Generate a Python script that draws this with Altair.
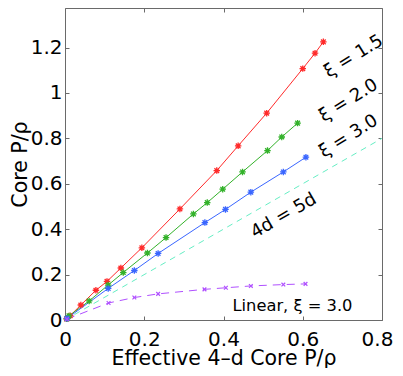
import altair as alt
import pandas as pd

# ---- data ----
red_x = [0.004, 0.013, 0.040, 0.078, 0.106, 0.141, 0.194, 0.290, 0.383, 0.437, 0.509, 0.600, 0.631, 0.652]
red_y = [0.005, 0.019, 0.066, 0.131, 0.170, 0.229, 0.318, 0.489, 0.658, 0.767, 0.911, 1.107, 1.175, 1.225]

green_x = [0.005, 0.010, 0.061, 0.109, 0.147, 0.208, 0.255, 0.324, 0.359, 0.398, 0.448, 0.511, 0.547, 0.587]
green_y = [0.005, 0.018, 0.084, 0.154, 0.209, 0.295, 0.363, 0.467, 0.517, 0.576, 0.652, 0.746, 0.806, 0.867]

blue_x = [0.005, 0.109, 0.175, 0.235, 0.353, 0.405, 0.469, 0.551, 0.608]
blue_y = [0.007, 0.139, 0.218, 0.293, 0.429, 0.487, 0.563, 0.652, 0.717]

purple_x = [0.005, 0.110, 0.175, 0.235, 0.352, 0.406, 0.469, 0.551, 0.607]
purple_y = [0.004, 0.075, 0.099, 0.115, 0.135, 0.142, 0.150, 0.156, 0.159]

eq_x = [0.0, 0.8]
eq_y = [0.0, 0.8]

x_ticks = [0, 0.2, 0.4, 0.6, 0.8]
y_ticks = [0, 0.2, 0.4, 0.6, 0.8, 1.0, 1.2]

label_text = ["ξ = 1.5", "ξ = 2.0", "ξ = 3.0", "4d = 5d"]
label_x = [0.729, 0.716, 0.716, 0.552]
label_y = [1.160, 0.966, 0.808, 0.458]
label_angle = [328, 328, 328, 330]

lin_text = ["Linear, ξ = 3.0"]
lin_x = [0.574]
lin_y = [0.060]

series_names = ["xi15", "xi20", "xi30", "lin30"]
series_colors = ["#ff2a2a", "#33b22a", "#3a66ff", "#b050ff"]

FONT = "DejaVu Sans"
TICK = "#6a6a6a"

rows = []
for name, xs, ys in zip(series_names, [red_x, green_x, blue_x, purple_x], [red_y, green_y, blue_y, purple_y]):
    for a, b in zip(xs, ys):
        rows.append({"series": name, "x": a, "y": b})
df = pd.DataFrame(rows)
eq_df = pd.DataFrame({"x": eq_x, "y": eq_y})
lab_df = pd.DataFrame({"t": label_text, "x": label_x, "y": label_y, "a": label_angle})
lin_df = pd.DataFrame({"t": lin_text, "x": lin_x, "y": lin_y})

xscale = alt.Scale(domain=[0, 0.8], nice=False, zero=False)
yscale = alt.Scale(domain=[0, 1.374], nice=False, zero=False)
cscale = alt.Scale(domain=series_names, range=series_colors)

common_axis = dict(domain=False, grid=False, tickSize=4, offset=-4, tickColor=TICK,
                   labelFont=FONT, labelFontSize=20, labelColor="black",
                   labelFlush=False, labelOverlap=False,
                   titleFont=FONT, titleFontSize=20.5, titleFontWeight="normal", titleColor="black")

x_bottom = alt.Axis(orient="bottom", values=x_ticks, format=".1~f", labelPadding=9,
                    labelOffset={"condition": {"test": "datum.value >= 0.79", "value": -5}, "value": 0},
                    title="Effective 4–d Core P/ρ", titleY=32, **common_axis)
y_left = alt.Axis(orient="left", values=y_ticks, format=".1~f", labelPadding=3,
                  title="Core P/ρ", titleX=-49, titleBaseline="middle", **common_axis)
x_top = alt.Axis(orient="top", values=x_ticks, labels=False, title=None,
                 domain=False, grid=False, tickSize=4, offset=-4, tickColor=TICK)
y_right = alt.Axis(orient="right", values=y_ticks, labels=False, title=None,
                   domain=False, grid=False, tickSize=4, offset=-4, tickColor=TICK)

ASTER = "M-1,0L1,0M0,-1L0,1M-0.72,-0.72L0.72,0.72M-0.72,0.72L0.72,-0.72"
XMARK = "M-1,-1L1,1M-1,1L1,-1"

X0 = alt.X("x:Q", scale=xscale, axis=None)
Y0 = alt.Y("y:Q", scale=yscale, axis=None)
C0 = alt.Color("series:N", scale=cscale, legend=None)

base = alt.Chart(df)

solid = base.transform_filter(alt.datum.series != "lin30").mark_line(strokeWidth=1).encode(
    x=alt.X("x:Q", scale=xscale, axis=x_bottom),
    y=alt.Y("y:Q", scale=yscale, axis=y_left),
    color=C0,
    detail="series:N",
)
dashed = base.transform_filter(alt.datum.series == "lin30").mark_line(
    strokeWidth=1, strokeDash=[8, 6]).encode(x=X0, y=Y0, color=C0)
stars = base.transform_filter(alt.datum.series != "lin30").mark_point(
    shape=ASTER, filled=False, size=42, strokeWidth=1.3, opacity=1).encode(x=X0, y=Y0, color=C0)
xs_marks = base.transform_filter(alt.datum.series == "lin30").mark_point(
    shape=XMARK, filled=False, size=14, strokeWidth=1.2, opacity=1).encode(x=X0, y=Y0, color=C0)
eq_line = alt.Chart(eq_df).mark_line(strokeWidth=1, strokeDash=[6, 5], color="#66eec4").encode(
    x=alt.X("x:Q", scale=xscale, axis=x_top),
    y=alt.Y("y:Q", scale=yscale, axis=y_right),
)
labels = alt.Chart(lab_df).mark_text(font=FONT, fontSize=18, color="black", align="center",
                                     baseline="middle").encode(
    x=X0, y=Y0, text="t:N", angle=alt.Angle("a:Q", scale=None),
)
lin_label = alt.Chart(lin_df).mark_text(font=FONT, fontSize=16.3, color="black", align="center",
                                        baseline="middle").encode(
    x=X0, y=Y0, text="t:N",
)

chart = alt.layer(solid, eq_line, dashed, stars, xs_marks, labels, lin_label).resolve_axis(
    x="independent", y="independent"
).properties(
    width=317, height=312,
    autosize=alt.AutoSizeParams(type="none"),
    padding={"left": 57, "top": 0, "right": 11, "bottom": 48},
).configure_view(stroke=TICK, strokeWidth=1)

chart.save("out.html", embed_options={"renderer": "svg", "actions": False})
